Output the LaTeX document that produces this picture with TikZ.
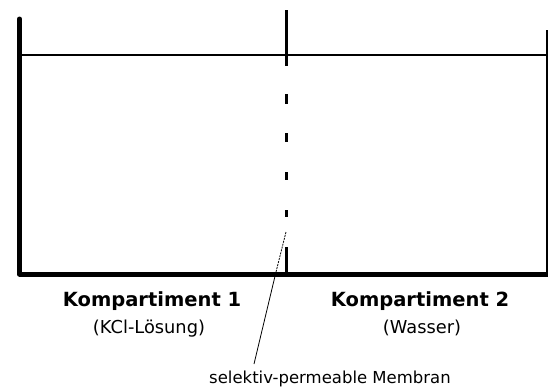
\documentclass[tikz,border=0pt]{standalone}
\usepackage{fontspec}
\setmainfont{DejaVu Sans}
\begin{document}
\begin{tikzpicture}[x=1pt,y=-1pt,
  wall/.style={line width=5pt,line join=round,line cap=round},
  thinwall/.style={line width=2pt},
  water/.style={line width=1.4pt},
  memb/.style={line width=3pt},
  leader/.style={line width=0.8pt},
  bigtxt/.style={font=\bfseries\fontsize{19.5}{22}\selectfont,anchor=base,inner sep=0pt},
  smalltxt/.style={font=\fontsize{16.5}{19}\selectfont,anchor=base,inner sep=0pt},
  subtxt/.style={font=\fontsize{17.8}{20}\selectfont,anchor=base,inner sep=0pt}]
\useasboundingbox (0,0) rectangle (548,388);
% container
\coordinate (tl) at (19.5,19);
\coordinate (bl) at (19.5,274);
\coordinate (br) at (550,274);
\draw[wall] (tl) -- (bl) -- (br);
\coordinate (rt) at (546.5,30);
\coordinate (rb) at (546.5,274);
\draw[thinwall] (rt) -- (rb);
% water surface
\coordinate (wl) at (21,55);
\coordinate (wr) at (548,55);
\draw[water] (wl) -- (wr);
% membrane
\coordinate (m0) at (286.5,10);
\coordinate (m1) at (286.5,66);
\draw[memb] (m0) -- (m1);
\foreach \a/\b [count=\i] in {94/104,133/142,172/180,210/217}{
  \coordinate (d\i a) at (286.5,\a);
  \coordinate (d\i b) at (286.5,\b);
  \draw[memb] (d\i a) -- (d\i b);
}
\coordinate (s0) at (286.5,247);
\coordinate (s1) at (286.5,272);
\draw[memb] (s0) -- (s1);
% leader
\coordinate (l0) at (286,232);
\coordinate (l1) at (276,272);
\coordinate (l2) at (254,364);
\draw[leader,dash pattern=on 2pt off 1pt] (l0) -- (l1);
\draw[leader] (l1) -- (l2);
% labels
\node[bigtxt] (k1) at (152,306) {Kompartiment 1};
\node[subtxt] (k1s) at (149,333) {(KCl-Lösung)};
\node[bigtxt] (k2) at (420,306) {Kompartiment 2};
\node[subtxt] (k2s) at (422,333) {(Wasser)};
\node[smalltxt] (mem) at (330,383) {selektiv-permeable Membran};
\end{tikzpicture}
\end{document}
